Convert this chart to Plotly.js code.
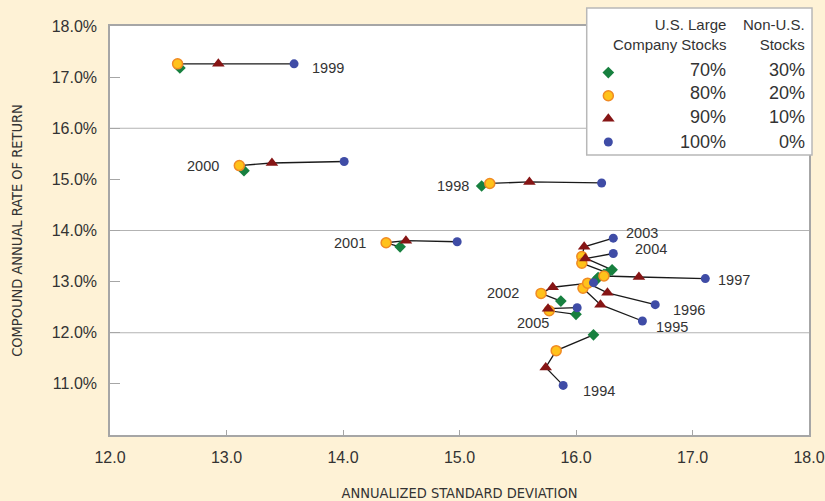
<!DOCTYPE html>
<html>
<head>
<meta charset="utf-8">
<script src="https://cdn.plot.ly/plotly-3.0.1.min.js"></script>
<style>
  html, body { margin: 0; padding: 0; background: #FEF2D6; }
  #chart { width: 825px; height: 501px; }
</style>
</head>
<body>
<div id="chart"></div>
<script>
// ---- Data ----
const years = ['1994','1995','1996','1997','1998','1999','2000','2001','2002','2003','2004','2005'];

// 70% U.S. Large / 30% Non-U.S.
const sd70  = [16.15, 16.18, 16.24, 16.19, 15.19, 12.60, 13.15, 14.49, 15.87, 16.31, 16.27, 16.00];
const ret70 = [11.96, 13.05, 13.14, 13.08, 14.87, 17.18, 15.17, 13.68, 12.62, 13.23, 13.17, 12.36];
// 80% / 20%
const sd80  = [15.83, 16.06, 16.10, 16.24, 15.26, 12.58, 13.11, 14.37, 15.70, 16.05, 16.05, 15.77];
const ret80 = [11.65, 12.87, 12.97, 13.11, 14.92, 17.26, 15.27, 13.76, 12.77, 13.49, 13.36, 12.43];
// 90% / 10%
const sd90  = [15.74, 16.21, 16.27, 16.54, 15.60, 12.93, 13.39, 14.54, 15.80, 16.07, 16.08, 15.76];
const ret90 = [11.32, 12.55, 12.78, 13.09, 14.95, 17.26, 15.32, 13.80, 12.89, 13.68, 13.45, 12.47];
// 100% / 0%
const sd100  = [15.89, 16.57, 16.68, 17.11, 16.22, 13.58, 14.01, 14.98, 16.15, 16.32, 16.32, 16.01];
const ret100 = [10.97, 12.23, 12.55, 13.06, 14.93, 17.26, 15.35, 13.78, 12.98, 13.85, 13.55, 12.49];

const usLabels    = ['70%', '80%', '90%', '100%'];
const nonUsLabels = ['30%', '20%', '10%', '0%'];
const xTicks = [12, 13, 14, 15, 16, 17, 18];
const yTicks = [11, 12, 13, 14, 15, 16, 17, 18];
const yTickText = ['11.0%', '12.0%', '13.0%', '14.0%', '15.0%', '16.0%', '17.0%', '18.0%'];
const gridLevels = [12, 14, 16];

// ---- Styling / layout configuration ----
const FONT = 'Liberation Sans, Arial, sans-serif';
const NARROW = 'Liberation Sans Narrow, Arial Narrow, DejaVu Sans Condensed, Liberation Sans, sans-serif';
const TXT = '#333333';
const AXC = '#a6a6a6';

const seriesDefs = [
  { sd: sd70,  ret: ret70,  symbol: 'diamond',     color: '#17803F', line: '#17803F', lw: 0,   size: 9 },
  { sd: sd80,  ret: ret80,  symbol: 'circle',      color: '#FFC21A', line: '#F08A24', lw: 1.5, size: 10 },
  { sd: sd90,  ret: ret90,  symbol: 'triangle-up', color: '#861515', line: '#861515', lw: 0,   size: 11 },
  { sd: sd100, ret: ret100, symbol: 'circle',      color: '#3F4CA6', line: '#3F4CA6', lw: 0,   size: 9 }
];

// label placement per year: which allocation point it sits next to, and pixel offsets
const labelPlace = {
  '1994': { s: 3, xa: 'left',   dx: 18,  dy: -6 },
  '1995': { s: 3, xa: 'left',   dx: 12,  dy: -6 },
  '1996': { s: 3, xa: 'left',   dx: 16,  dy: -5 },
  '1997': { s: 3, xa: 'left',   dx: 11,  dy: -1 },
  '1998': { s: 0, xa: 'right',  dx: -11, dy: 0 },
  '1999': { s: 3, xa: 'left',   dx: 16,  dy: -4 },
  '2000': { s: 1, xa: 'right',  dx: -18, dy: 0 },
  '2001': { s: 1, xa: 'right',  dx: -18, dy: 0 },
  '2002': { s: 1, xa: 'right',  dx: -20, dy: 0 },
  '2003': { s: 3, xa: 'left',   dx: 11,  dy: 5 },
  '2004': { s: 3, xa: 'left',   dx: 20,  dy: 5 },
  '2005': { s: 1, xa: 'center', dx: -16, dy: -12 }
};

const traces = [];

// connecting line for each year (70 -> 80 -> 90 -> 100)
years.forEach((yr, i) => {
  traces.push({
    type: 'scatter', mode: 'lines',
    x: seriesDefs.map(s => s.sd[i]),
    y: seriesDefs.map(s => s.ret[i]),
    line: { color: '#1a1a1a', width: 1.3 },
    showlegend: false, hoverinfo: 'skip'
  });
});

// markers per allocation
seriesDefs.forEach((s, k) => {
  traces.push({
    type: 'scatter', mode: 'markers',
    name: '\u2007',
    x: s.sd, y: s.ret, text: years,
    marker: { symbol: s.symbol, color: s.color, size: s.size, line: { color: s.line, width: s.lw } },
    showlegend: true,
    hovertemplate: usLabels[k] + ' / ' + nonUsLabels[k] + ' %{text}<br>SD %{x:.2f}<br>Return %{y:.2f}%<extra></extra>'
  });
});

const annotations = [];

years.forEach((yr, i) => {
  const p = labelPlace[yr];
  annotations.push({
    x: seriesDefs[p.s].sd[i], y: seriesDefs[p.s].ret[i],
    xref: 'x', yref: 'y', text: yr, showarrow: false,
    xanchor: p.xa, yanchor: 'middle', xshift: p.dx, yshift: p.dy,
    font: { family: FONT, size: 14.5, color: TXT }
  });
});

// legend-box text (header and percentages)
const colUS = 0.8841, colNonUS = 0.9971;
const rowY = [0.8924, 0.8350, 0.7775, 0.7164];
annotations.push({
  x: colUS, y: 0.9804, xref: 'paper', yref: 'paper', showarrow: false,
  xanchor: 'right', yanchor: 'middle', align: 'right',
  text: 'U.S. Large<br>Company Stocks',
  font: { family: FONT, size: 15, color: TXT }
});
annotations.push({
  x: colNonUS, y: 0.9804, xref: 'paper', yref: 'paper', showarrow: false,
  xanchor: 'right', yanchor: 'middle', align: 'right',
  text: 'Non-U.S.<br>Stocks',
  font: { family: FONT, size: 15, color: TXT }
});
usLabels.forEach((t, k) => {
  annotations.push({
    x: colUS, y: rowY[k], xref: 'paper', yref: 'paper', showarrow: false,
    xanchor: 'right', yanchor: 'middle', text: t,
    font: { family: FONT, size: 18, color: TXT }
  });
  annotations.push({
    x: colNonUS, y: rowY[k], xref: 'paper', yref: 'paper', showarrow: false,
    xanchor: 'right', yanchor: 'middle', text: nonUsLabels[k],
    font: { family: FONT, size: 18, color: TXT }
  });
});

const shapes = gridLevels.map(v => ({
  type: 'line', xref: 'paper', yref: 'y', x0: 0, x1: 1, y0: v, y1: v,
  line: { color: '#b3b3b3', width: 1.2 }, layer: 'below'
}));
// legend box
shapes.push({
  type: 'rect', xref: 'paper', yref: 'paper',
  x0: 0.682, x1: 1.0043, y0: 0.6846, y1: 1.044,
  fillcolor: '#ffffff', line: { color: '#b8b8b8', width: 1.5 }, layer: 'above'
});

const layout = {
  width: 825, height: 501,
  margin: { l: 110, r: 16, t: 26, b: 66 },
  paper_bgcolor: '#FEF2D6',
  plot_bgcolor: '#ffffff',
  showlegend: true,
  legend: {
    x: 0.6843, y: 0.9267, xanchor: 'left', yanchor: 'top',
    bgcolor: 'rgba(0,0,0,0)', borderwidth: 0,
    font: { family: FONT, size: 15.5, color: TXT },
    itemclick: false, itemdoubleclick: false
  },
  xaxis: {
    range: [12, 18], tickmode: 'array', tickvals: xTicks, tickformat: '.1f',
    ticks: 'inside', ticklen: 5, tickcolor: AXC, tickwidth: 1.2,
    showline: true, linecolor: AXC, linewidth: 1.5, mirror: true,
    showgrid: false, zeroline: false, ticklabelstandoff: 7,
    tickfont: { family: FONT, size: 16, color: TXT },
    title: { text: 'ANNUALIZED STANDARD DEVIATION', standoff: 24,
             font: { family: NARROW, size: 14.5, color: TXT } }
  },
  yaxis: {
    range: [10, 18], tickmode: 'array', tickvals: yTicks, ticktext: yTickText,
    ticks: 'inside', ticklen: 10, tickcolor: AXC, tickwidth: 1.2,
    showline: true, linecolor: AXC, linewidth: 1.5, mirror: true,
    showgrid: false, zeroline: false, ticklabelstandoff: 8,
    tickfont: { family: FONT, size: 16, color: TXT },
    title: { text: 'COMPOUND ANNUAL RATE OF RETURN', standoff: 26,
             font: { family: NARROW, size: 14.5, color: TXT } }
  },
  shapes: shapes,
  annotations: annotations,
  hovermode: 'closest'
};

Plotly.newPlot('chart', traces, layout, { displayModeBar: false });
</script>
</body>
</html>
